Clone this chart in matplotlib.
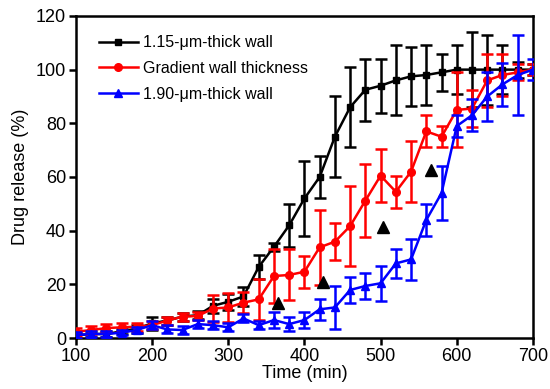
import numpy as np
import matplotlib
matplotlib.use('Agg')
import matplotlib.pyplot as plt

plt.rcParams['font.family'] = ['Liberation Sans', 'DejaVu Sans']

time = np.arange(100, 701, 20)

thin = [1, 1.5, 1.5, 2.5, 3.5, 5.5, 6.5, 8, 8.5, 12, 13.5, 15.5, 26.5, 34, 42, 52,
        60, 75, 86, 92.5, 94, 96, 97.5, 98, 99, 100, 100, 100, 100, 100, 100]
thinErr = [1, 1, 1, 1, 1.5, 2.5, 1.5, 1.5, 1.5, 2.5, 3, 3.5, 4.5, 1.5, 8, 14,
           8, 15, 15, 11.5, 10, 13, 11, 11, 7, 9, 14, 13, 9, 3, 2]

grad = [2.3, 3, 3.7, 4, 4.2, 4.8, 6.5, 8, 8.2, 11, 11.4, 13.2, 14.4, 23.1, 23.5, 24.7,
        33.8, 35.9, 41.7, 51.2, 60.5, 54.5, 62, 77, 75, 85, 85.5, 96, 98, 99, 100]
gradErr = [1.5, 1.5, 1.5, 1.5, 1.5, 1.5, 1.5, 1.5, 1.5, 5, 5.5, 4, 7.5, 10, 9.5, 6,
           14, 7, 15, 13.5, 10, 6, 11.5, 6, 4, 14, 7, 10, 8, 3, 2]

thick = [1.1, 1.5, 1.5, 2, 3, 4.8, 3.2, 3, 5.2, 4.8, 4, 7.3, 4.8, 6.7, 5.2, 6.7,
         10.7, 11.4, 17.9, 19.4, 20.4, 27.8, 29.3, 44, 54, 79, 83, 90, 94.5, 98, 100]
thickErr = [1, 1, 1, 1, 1, 1.5, 1.5, 1.5, 1.5, 1.5, 1.5, 1.5, 1.5, 3, 2.5, 3,
            4, 8, 5, 5, 6.5, 5.5, 7.5, 6, 10, 4, 6, 9, 8, 15, 4]

# significance markers
sigTime = [365, 425, 503, 566]
sigVal = [13.2, 21, 41.5, 62.6]

fig = plt.figure(figsize=(5.5, 3.89), dpi=100)
ax = fig.add_axes([0.138, 0.131, 0.831, 0.828])

common = dict(lw=1.8, elinewidth=1.8, capsize=4, capthick=1.8)
ax.errorbar(time, thin, yerr=thinErr, color='black', marker='s', ms=5,
            label='1.15-μm-thick wall', zorder=3, **common)
ax.errorbar(time, grad, yerr=gradErr, color='#ff0000', marker='o', ms=5.5,
            label='Gradient wall thickness', zorder=4, **common)
ax.errorbar(time, thick, yerr=thickErr, color='#0000ff', marker='^', ms=5.5,
            label='1.90-μm-thick wall', zorder=5, **common)
ax.plot(sigTime, sigVal, 'k^', ms=9, ls='none', zorder=6)

ax.set_xlim(100, 700)
ax.set_ylim(0, 120)
ax.set_xticks(range(100, 701, 100))
ax.set_yticks(range(0, 121, 20))
ax.tick_params(direction='out', length=5, width=1.8, labelsize=13, pad=2,
               top=False, right=False)
for s in ax.spines.values():
    s.set_linewidth(1.8)
ax.set_xlabel('Time (min)', fontsize=13, labelpad=0)
ax.set_ylabel('Drug release (%)', fontsize=13, labelpad=5)

handles, labels = ax.get_legend_handles_labels()
handles = [h[0] for h in handles]
ax.legend(handles, labels, loc='upper left', bbox_to_anchor=(0.03, 0.97),
          frameon=False, fontsize=11.5, handlelength=2.4, borderaxespad=0.2,
          labelspacing=0.68, handletextpad=0.35)

fig.savefig('out.png', dpi=100)
